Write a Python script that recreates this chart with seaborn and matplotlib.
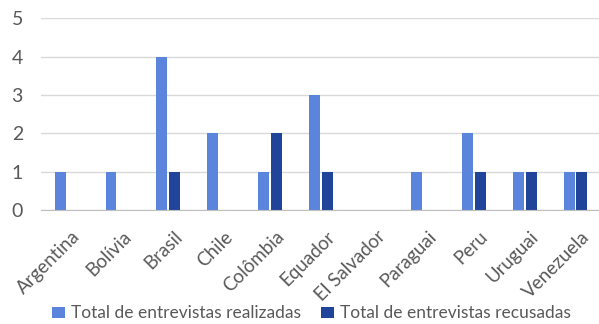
import numpy as np
import pandas as pd
import matplotlib
matplotlib.use("Agg")
import matplotlib.pyplot as plt
import matplotlib.transforms as mtransforms
import seaborn as sns

# valores
paises = ["Argentina", "Bolívia", "Brasil", "Chile", "Colômbia", "Equador",
          "El Salvador", "Paraguai", "Peru", "Uruguai", "Venezuela"]
realizadas = [1, 1, 4, 2, 1, 3, 0, 1, 2, 1, 1]
recusadas = [0, 0, 1, 0, 2, 1, 0, 0, 1, 1, 1]
series = ["Total de entrevistas realizadas", "Total de entrevistas recusadas"]
cores = ["#5B84DC", "#21449B"]

df = pd.DataFrame({
    "pais": paises * 2,
    "valor": realizadas + recusadas,
    "serie": [series[0]] * len(paises) + [series[1]] * len(paises),
})

sns.set_style("white")
plt.rcParams["font.family"] = ["Lato", "DejaVu Sans"]

fig = plt.figure(figsize=(5.99, 3.24), dpi=100)
ax = fig.add_axes([0.0684, 0.352, 0.935, 0.5915])

sns.barplot(data=df, x="pais", y="valor", hue="serie", palette=cores,
            width=0.5, gap=0.14, ax=ax, saturation=1, legend=True,
            linewidth=0)

ax.set_ylim(0, 5)
ax.set_xlim(-0.5, len(paises) - 0.5)
ax.set_yticks(range(6))
ax.grid(True, axis="y", color="#D9D9D9", linewidth=1)
ax.set_axisbelow(True)
for s in ["left", "right", "top"]:
    ax.spines[s].set_visible(False)
ax.spines["bottom"].set_color("#BFBFBF")
ax.set_xlabel("")
ax.set_ylabel("")
ax.tick_params(axis="both", length=0, colors="#595959", labelsize=14)
ax.tick_params(axis="x", labelsize=13.5, pad=13)
ax.tick_params(axis="y", pad=13)
shift = mtransforms.ScaledTranslation(5 / 100, 0, fig.dpi_scale_trans)
for lbl in ax.get_xticklabels():
    lbl.set_rotation(45)
    lbl.set_ha("right")
    lbl.set_rotation_mode("anchor")
    lbl.set_transform(lbl.get_transform() + shift)

handles, labels = ax.get_legend_handles_labels()
ax.legend_.remove()
fig.legend(handles, labels, loc="lower center", bbox_to_anchor=(0.52, -0.04),
           ncol=2, frameon=False, fontsize=12.5, labelcolor="#595959",
           handlelength=0.75, handleheight=0.6, handletextpad=0.3, columnspacing=1.2)

fig.savefig("out.png", dpi=100)
